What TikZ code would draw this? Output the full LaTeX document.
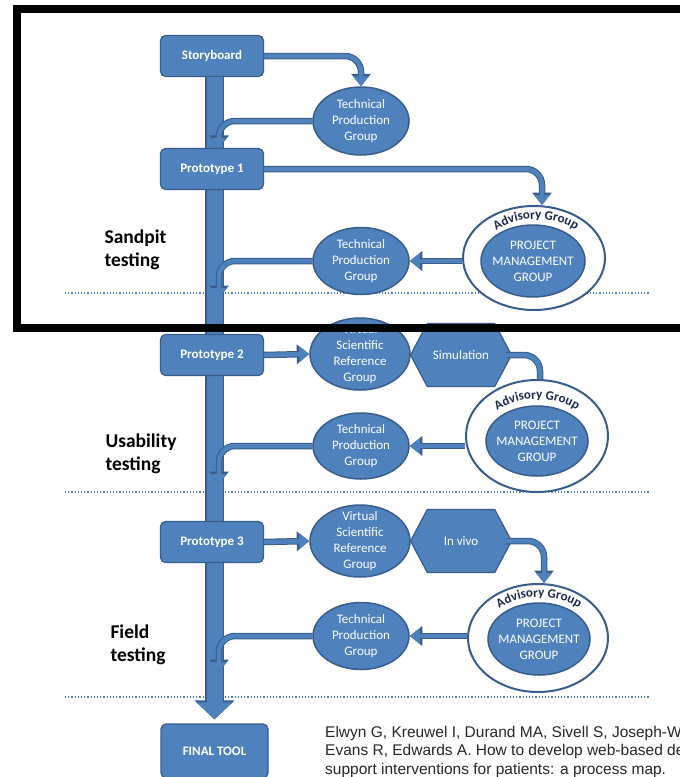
\documentclass[tikz,border=0pt]{standalone}
\usepackage{fontspec}
\setmainfont{Carlito}
\newfontfamily\citefont{Liberation Sans}
\usetikzlibrary{calc, arrows.meta, shapes.geometric, shapes.symbols, decorations.text}
\definecolor{boxblue}{HTML}{4F81BD}
\definecolor{edgeblue}{HTML}{385D8A}
\definecolor{advnavy}{HTML}{1B2A4A}

% curved caption over a project management group
\newcommand{\advtext}[1]{%
  \path[decorate, decoration={text along path, text align=center, text color=advnavy,
      text={|\bfseries\fontsize{13}{13}\selectfont|Advisory Group}}]
    ($(#1)+(-48,-24)$) .. controls ($(#1)+(-23,-48)$) and ($(#1)+(23,-48)$) .. ($(#1)+(48,-24)$);}

\begin{document}
\begin{tikzpicture}[x=1pt, y=-1pt,
   stepbox/.style = {rectangle, rounded corners=5pt, fill=boxblue, draw=edgeblue,
      line width=1.2pt, text=white, font=\bfseries\fontsize{13}{16}\selectfont,
      minimum width=103pt, minimum height=41pt, inner sep=0pt},
   grp/.style = {ellipse, fill=boxblue, draw=edgeblue, line width=1.5pt, text=white,
      align=center, font=\fontsize{13}{16}\selectfont, inner sep=-10pt},
   adv/.style = {ellipse, fill=white, draw=edgeblue, line width=2pt, inner sep=0pt},
   hexa/.style = {signal, signal to=west and east, signal pointer angle=124,
      fill=boxblue, draw=edgeblue, line width=1.2pt, text=white,
      font=\fontsize{13}{16}\selectfont, minimum width=101pt, minimum height=63pt, inner sep=0pt},
   phase/.style = {font=\bfseries\fontsize{19.5}{22.5}\selectfont, align=left, anchor=west},
   sep/.style = {draw=boxblue, line width=1.2pt, dotted},
   flow/.style = {draw=boxblue, line width=4.5pt, rounded corners=16pt,
      -{Triangle[width=15pt,length=10pt]},
      preaction={draw=edgeblue, line width=6.5pt, -{Triangle[width=19pt,length=12.5pt]}}},
   flowline/.style = {draw=boxblue, line width=4.5pt, rounded corners=16pt,
      preaction={draw=edgeblue, line width=6.5pt}},
   trunk/.style = {draw=boxblue, line width=16pt, -{Triangle[width=35pt,length=17pt]},
      preaction={draw=edgeblue, line width=18.5pt, -{Triangle[width=39pt,length=19pt]}}}]

   \useasboundingbox (0,0) rectangle (680,777);

   % phase separators
   \draw[sep] (65,293) -- (650,293);
   \draw[sep] (65,492) -- (650,492);
   \draw[sep] (65,697) -- (650,697);

   \node[stepbox] (sb) at (212,56) {Storyboard};
   \node[stepbox, minimum width=107pt, minimum height=54pt] (ft) at (214.5,751) {FINAL TOOL};
   \draw[trunk] (sb.south -| ft.north) -- ([yshift=4pt]ft.north);

   \node[stepbox] (p1) at (212,169) {Prototype 1};
   \node[stepbox] (p2) at (212,355) {Prototype 2};
   \node[stepbox] (p3) at (212,542) {Prototype 3};

   % sandpit testing
   \node[grp, minimum width=96pt, minimum height=68pt] (tpgA) at (361,121) {Technical\\Production\\Group};
   \node[adv, minimum width=142pt, minimum height=104pt] (advA) at (534,258) {};
   \node[grp, minimum width=104pt, minimum height=72pt] (pmgA) at (533,261) {PROJECT\\MANAGEMENT\\GROUP};
   \node[grp, minimum width=96pt, minimum height=67pt] (tpgB) at (361,261) {Technical\\Production\\Group};
   \advtext{[xshift=3pt]pmgA}

   % usability testing
   \node[grp, minimum width=100pt, minimum height=72pt] (vsrgA) at (360,354) {Virtual\\Scientific\\Reference\\Group};
   \node[hexa] (sim) at (461,355) {Simulation};
   \node[adv, minimum width=142pt, minimum height=112pt] (advB) at (537,436) {};
   \node[grp, minimum width=102pt, minimum height=70pt] (pmgB) at (537,441) {PROJECT\\MANAGEMENT\\GROUP};
   \node[grp, minimum width=96pt, minimum height=66pt] (tpgC) at (361,446) {Technical\\Production\\Group};
   \advtext{pmgB}

   % field testing
   \node[grp, minimum width=100pt, minimum height=72pt] (vsrgB) at (360,541) {Virtual\\Scientific\\Reference\\Group};
   \node[hexa] (viv) at (461,541) {In vivo};
   \node[adv, minimum width=140pt, minimum height=108pt] (advC) at (538,638) {};
   \node[grp, minimum width=102pt, minimum height=72pt] (pmgC) at (539,639) {PROJECT\\MANAGEMENT\\GROUP};
   \node[grp, minimum width=96pt, minimum height=67pt] (tpgD) at (361,636) {Technical\\Production\\Group};
   \advtext{pmgC}

   \coordinate (retA) at (219,298);
   \coordinate (retB) at (219,484);
   \coordinate (retC) at (219,672);

   \draw[flow] (sb.east) -| (tpgA.north);
   \draw[flow] (tpgA.west) -| ([xshift=7pt]p1.north);
   \draw[flow] (p1.east) -| ([xshift=8pt]advA.north);
   \draw[flow] (advA.west |- tpgB.east) -- (tpgB.east);
   \draw[flow] (tpgB.west) -| (retA);
   %
   \draw[flow] (p2.east) -- (vsrgA.west);
   \draw[flowline] ([xshift=-6pt]sim.east) -| ([xshift=3pt]advB.north);
   \draw[flow] (advB.west |- tpgC.east) -- (tpgC.east);
   \draw[flow] (tpgC.west) -| (retB);
   %
   \draw[flow] (p3.east) -- (vsrgB.west);
   \draw[flow] ([xshift=-6pt]viv.east) -| ([xshift=6pt]advC.north);
   \draw[flow] (advC.west |- tpgD.east) -- (tpgD.east);
   \draw[flow] (tpgD.west) -| (retC);

   \node[phase] (sand) at (101,250) {Sandpit\\testing};
   \node[phase] (usab) at (102,454) {Usability\\testing};
   \node[phase] (field) at (107,645) {Field\\testing};

   \node[anchor=north west, align=left, inner sep=0pt, text=black!85,
      font=\citefont\fontsize{15.5}{18.5}\selectfont] (cite) at (325,726)
      {Elwyn G, Kreuwel I, Durand MA, Sivell S, Joseph-Williams N,\\
       Evans R, Edwards A. How to develop web-based decision\\
       support interventions for patients: a process map.};

   % highlight frame
   \draw[line width=8pt] (17,9) rectangle (700,328);
\end{tikzpicture}
\end{document}
